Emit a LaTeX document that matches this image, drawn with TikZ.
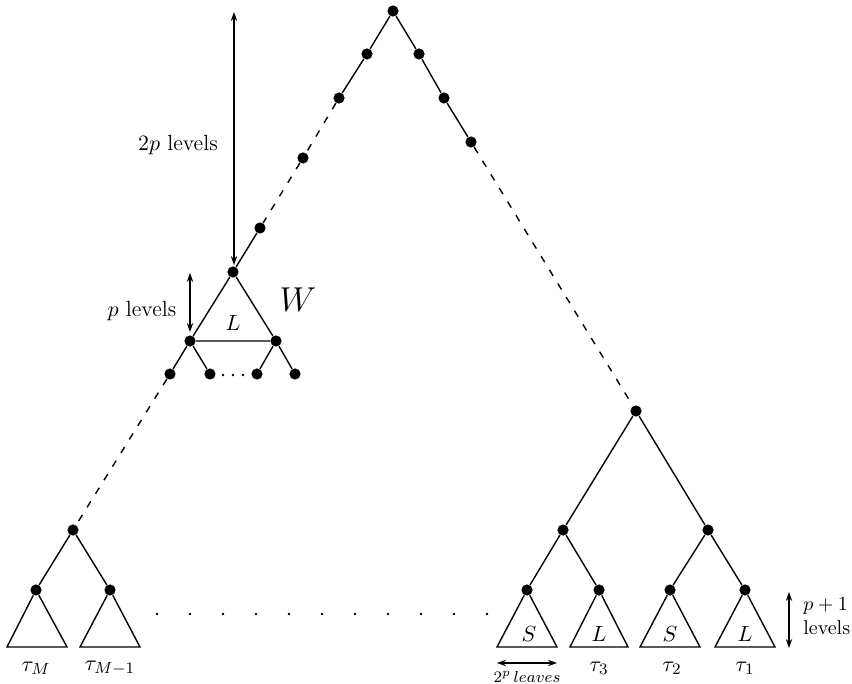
\documentclass[tikz,border=0pt]{standalone}
\usetikzlibrary{arrows.meta}
\begin{document}
\begin{tikzpicture}[x=0.5pt,y=-0.5pt,
  dot/.style={circle,fill,inner sep=0pt,minimum size=5.6pt},
  smalldot/.style={circle,fill,inner sep=0pt,minimum size=1.3pt},
  edge/.style={line width=0.7pt},
  dashedge/.style={line width=0.7pt,dash pattern=on 3.5pt off 4.5pt},
  dim/.style={line width=0.6pt,{Stealth[length=4.5pt,width=3.2pt]}-{Stealth[length=4.5pt,width=3.2pt]}},
  lbl/.style={font=\fontsize{11}{13}\selectfont,inner sep=1pt},
  inlbl/.style={font=\fontsize{11}{13}\selectfont,inner sep=0pt}]
\useasboundingbox (0,0) rectangle (852,684);
% top spine
\node[dot] (r) at (393,11) {};
\node[dot] (a1) at (367,54) {};
\node[dot] (a2) at (339,98) {};
\node[dot] (a3) at (303,158) {};
\node[dot] (a4) at (260,228) {};
\node[dot] (w) at (233,272) {};
\node[dot] (b1) at (419,54) {};
\node[dot] (b2) at (444,98) {};
\node[dot] (b3) at (471,142) {};
\node[dot] (R) at (636,411) {};
% W subtree
\node[dot] (wl) at (190,341) {};
\node[dot] (wr) at (276,341) {};
\node[dot] (c1) at (170,374) {};
\node[dot] (c2) at (210,374) {};
\node[dot] (c3) at (257,374) {};
\node[dot] (c4) at (295,374) {};
\node[inlbl] (wL) at (233,323) {$L$};
\node[font=\fontsize{17}{20}\selectfont,inner sep=0pt] (W) at (298,300) {$W$};
\foreach \i/\x in {1/223,2/233,3/243} \node[smalldot] (wd\i) at (\x,375) {};
% left bottom
\node[dot] (m) at (73,530) {};
\node[dot] (mM) at (36,590) {};
\node[dot] (mMa) at (110,590) {};
\coordinate (mMl) at (7,647);  \coordinate (mMr) at (67,647);
\coordinate (mMal) at (80,647); \coordinate (mMar) at (140,647);
% right bottom
\node[dot] (R1) at (563,530) {};
\node[dot] (R2) at (708,530) {};
\node[dot] (t4) at (527,590) {};
\node[dot] (t3) at (599,590) {};
\node[dot] (t2) at (670,590) {};
\node[dot] (t1) at (745,590) {};
\coordinate (t4l) at (497,647); \coordinate (t4r) at (557,647);
\coordinate (t3l) at (570,647); \coordinate (t3r) at (628,647);
\coordinate (t2l) at (640,647); \coordinate (t2r) at (700,647);
\coordinate (t1l) at (715,647); \coordinate (t1r) at (775,647);
\node[inlbl] (sS4) at (529,634) {$S$};
\node[inlbl] (sL3) at (599,634) {$L$};
\node[inlbl] (sS2) at (670,634) {$S$};
\node[inlbl] (sL1) at (745,634) {$L$};
% tau labels
\node[lbl] (tauM) at (36,668) {$\tau_M$};
\node[lbl] (tauM1) at (110,668) {$\tau_{M-1}$};
\node[lbl] (tau3) at (599,668) {$\tau_3$};
\node[lbl] (tau2) at (672,668) {$\tau_2$};
\node[lbl] (tau1) at (745,668) {$\tau_1$};
% row of dots
\foreach \k in {0,...,10} \node[smalldot] (rd\k) at (157+33*\k,614) {};
% edges
\draw[edge] (r)--(a1)--(a2);
\draw[dashedge] (a2)--(a3)--(a4);
\draw[edge] (a4)--(w);
\draw[edge] (r)--(b1)--(b2)--(b3);
\draw[dashedge] (b3)--(R);
\draw[edge] (w)--(wl)--(wr)--(w);
\draw[edge] (wl)--(c1) (wl)--(c2) (wr)--(c3) (wr)--(c4);
\draw[dashedge] (c1)--(m);
\draw[edge] (m)--(mM) (m)--(mMa);
\draw[edge] (mM)--(mMl)--(mMr)--(mM);
\draw[edge] (mMa)--(mMal)--(mMar)--(mMa);
\draw[edge] (R)--(R1) (R)--(R2) (R1)--(t4) (R1)--(t3) (R2)--(t2) (R2)--(t1);
\draw[edge] (t4)--(t4l)--(t4r)--(t4);
\draw[edge] (t3)--(t3l)--(t3r)--(t3);
\draw[edge] (t2)--(t2l)--(t2r)--(t2);
\draw[edge] (t1)--(t1l)--(t1r)--(t1);
% dimension arrows
\coordinate (d1a) at (234,12); \coordinate (d1b) at (234,265);
\draw[dim] (d1a)--(d1b);
\node[lbl] (l2p) at (178,145) {$2p$ levels};
\coordinate (d2a) at (190,273); \coordinate (d2b) at (190,332);
\draw[dim] (d2a)--(d2b);
\node[lbl] (lp) at (142,311) {$p$ levels};
\coordinate (d3a) at (789,592); \coordinate (d3b) at (789,648);
\draw[dim] (d3a)--(d3b);
\node[font=\fontsize{10}{12}\selectfont,inner sep=0pt,anchor=west,align=left] (lp1) at (803,616) {$p+1$\\levels};
\coordinate (d4a) at (497,663); \coordinate (d4b) at (557,663);
\draw[dim] (d4a)--(d4b);
\node[font=\fontsize{8}{9}\selectfont,inner sep=0pt] (l2pl) at (527,677) {$2^p\,leaves$};
\end{tikzpicture}
\end{document}
